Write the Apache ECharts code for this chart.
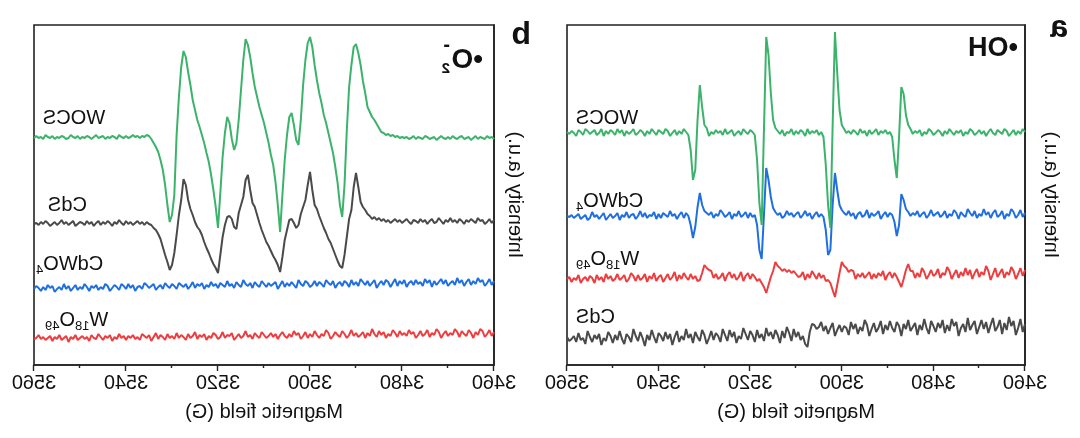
<!DOCTYPE html>
<html>
<head>
<meta charset="utf-8">
<script src="https://cdn.jsdelivr.net/npm/echarts@6/dist/echarts.min.js"></script>
<style>
  html, body { margin: 0; padding: 0; background: #ffffff; }
  /* the reference figure is a horizontally mirrored image */
  #chart { width: 1080px; height: 438px; transform: scaleX(-1); }
</style>
</head>
<body>
<div id="chart"></div>
<script>
// Magnetic field sampling grid (G): 3460 .. 3560, step 0.5 G (201 samples)
const FIELD_START = 3460;
const FIELD_STEP = 0.5;
const X_TICKS = [3460, 3480, 3500, 3520, 3540, 3560];

// ---------- Panel a : •OH (DMPO-OH quartet) ----------
const A_WOCS = [
233,236,231,234,230,235,232,229,234,236,231,233,235,230,232,236,233,229,234,231,
235,232,230,234,236,231,233,229,235,232,234,230,233,236,231,234,229,233,235,232,
230,234,236,231,233,229,235,232,234,231,236,240,250,271,278,228,187,205,228,233,
231,235,232,234,230,236,233,231,235,229,234,232,236,230,233,235,231,234,232,236,
240,255,292,333,240,137,160,200,228,233,230,235,232,234,231,236,229,233,235,231,
234,230,236,232,233,229,235,231,234,237,245,272,310,328,235,140,162,205,230,233,
235,231,233,236,230,234,232,229,235,233,231,236,230,234,232,235,231,233,229,237,
240,258,280,245,195,185,215,230,233,236,231,234,230,235,232,229,234,236,231,233,
235,230,233,236,231,234,229,233,235,232,230,236,233,231,234,229,235,232,236,230,
233,235,231,234,229,236,232,230,235,233,231,234,236,230,233,235,229,232,234,231,
233];
const A_CDWO4 = [
152,148,155,150,147,153,156,149,151,146,154,150,148,155,152,147,153,150,156,149,
151,147,154,149,152,156,148,150,153,146,152,155,149,151,147,154,150,148,153,151,
149,155,150,147,153,151,148,154,150,152,149,153,156,165,171,140,129,143,150,152,
148,153,150,146,154,151,149,152,147,155,150,148,153,151,146,152,149,154,150,152,
155,160,175,192,160,115,110,135,148,151,148,153,150,146,152,149,154,150,147,153,
151,148,152,150,154,149,147,152,150,153,157,168,185,197,150,106,115,140,150,148,
152,147,153,150,148,154,149,151,146,153,150,148,152,155,149,151,147,153,150,152,
154,160,172,158,138,127,140,149,152,147,153,150,146,151,149,154,148,150,152,147,
151,146,153,149,150,147,152,148,154,149,146,151,150,147,153,148,150,145,152,149,
147,151,148,145,152,149,146,150,148,153,147,145,150,148,146,151,149,147,150,148,
149];
const A_W18O49 = [
95,89,97,91,86,94,98,90,93,87,96,92,88,97,91,85,94,99,90,93,
88,96,92,86,95,90,97,89,93,87,95,91,86,94,98,90,92,87,96,91,
89,95,90,86,93,97,88,92,87,94,94,101,95,86,78,83,88,92,87,93,
90,85,94,89,92,87,91,86,93,90,87,92,88,91,86,94,95,93,97,99,
103,92,80,68,75,82,85,84,90,87,92,86,90,94,87,91,85,93,89,88,
91,94,92,95,93,96,94,97,99,103,94,88,80,72,78,82,86,84,88,91,
86,92,89,84,93,88,85,91,87,93,90,84,92,88,86,91,87,94,95,97,
100,92,85,84,89,86,91,85,88,92,86,90,84,93,88,85,91,87,83,90,
88,84,92,86,89,83,91,87,85,90,84,89,92,86,83,90,87,85,91,86,
84,89,86,91,83,88,85,90,82,87,89,84,88,86,82,90,85,87,83,88,
86];
const A_CDS = [
41,33,46,37,30,44,39,48,35,42,31,45,38,34,47,40,32,43,36,45,
38,31,44,40,35,47,33,41,37,29,43,39,46,34,40,32,45,37,42,33,
39,44,31,37,46,35,40,30,42,38,34,45,36,41,29,39,43,33,37,44,
35,40,31,44,37,33,42,36,29,40,45,34,38,31,41,36,43,30,37,39,
33,40,35,29,42,37,31,39,34,43,38,36,40,41,33,18,21,29,25,33,
28,36,24,32,38,27,34,22,30,35,26,33,29,37,24,31,27,35,23,30,
34,25,31,37,26,29,22,33,28,35,24,30,36,23,29,32,25,34,27,21,
30,35,24,28,33,22,31,27,36,25,29,23,34,28,20,31,26,33,24,29,
32,22,28,35,25,30,19,27,33,24,29,36,23,28,31,21,26,34,25,30,
22,29,33,24,27,20,31,26,30,23,28,34,21,27,25,32,23,29,26,24,
28];

// ---------- Panel b : •O2- (DMPO-OOH) ----------
const B_WOCS = [
226,228,227,229,226,227,228,226,229,227,225,228,227,226,229,228,226,227,229,226,
228,226,227,229,227,225,228,227,226,228,229,226,227,228,226,229,227,226,228,227,
228,227,229,228,230,229,231,230,232,233,237,241,245,248,253,258,272,284,300,312,
321,318,300,278,235,180,148,160,182,198,212,222,232,242,250,262,272,285,300,318,
328,322,305,280,245,220,225,240,252,248,230,205,170,133,160,183,200,210,222,232,
242,250,258,268,278,292,308,320,326,305,275,245,222,215,226,242,248,232,208,172,
137,158,175,190,203,212,222,230,238,245,255,265,280,293,308,314,298,268,230,170,
150,143,160,180,195,205,213,218,222,226,229,230,228,229,227,229,228,230,228,227,
229,227,228,230,226,228,229,227,228,226,229,228,227,230,228,226,228,229,227,228,
226,229,227,228,230,227,226,228,229,227,228,226,229,227,228,230,226,228,227,229,
227];
const B_CDS = [
145,142,146,143,141,145,144,147,142,144,146,143,145,141,144,146,142,145,143,147,
143,145,141,144,147,143,142,146,144,141,145,143,146,142,144,145,141,143,146,144,
142,145,143,146,144,142,145,143,146,144,147,145,148,146,149,151,155,158,163,178,
192,178,155,146,128,110,97,99,104,110,116,122,126,132,137,143,149,156,160,175,
193,180,165,158,151,140,137,142,146,145,135,125,108,93,100,105,109,114,119,123,
129,135,142,150,158,162,175,190,185,168,160,152,136,138,146,149,148,140,128,110,
92,97,101,106,112,117,123,130,135,138,143,150,156,165,180,186,165,150,130,112,
100,95,103,110,118,126,131,135,137,140,141,143,140,143,141,144,142,140,143,141,
144,140,142,145,141,143,139,142,144,141,143,140,144,142,139,143,141,144,140,142,
143,141,139,144,142,140,143,141,145,142,140,143,141,139,142,144,141,143,140,142,
141];
const B_CDWO4 = [
84,80,86,82,79,85,83,87,81,84,80,86,83,79,85,82,87,80,84,82,
79,85,81,86,83,80,84,78,85,82,86,79,83,81,85,80,84,82,78,85,
81,84,79,86,82,78,83,85,80,84,81,77,85,82,79,84,80,83,86,79,
83,80,85,78,82,84,79,83,81,77,84,80,82,85,78,81,83,79,84,80,
78,82,84,79,81,85,77,80,83,79,82,78,84,80,76,83,81,79,82,78,
81,84,78,80,83,77,82,79,81,85,78,80,83,77,81,79,84,78,80,82,
77,81,79,83,78,80,76,82,79,81,77,83,79,76,81,78,80,82,76,79,
81,77,79,82,76,80,78,75,81,79,77,80,82,76,79,78,74,80,77,81,
76,79,81,75,78,80,77,74,79,81,76,78,75,80,77,79,74,78,81,76,
78,75,80,77,74,79,76,81,75,78,76,73,79,77,80,75,78,74,77,79,
76];
const B_W18O49 = [
33,29,35,31,28,34,36,30,33,27,32,35,29,31,34,28,33,36,30,32,
29,34,31,27,33,36,30,32,28,35,31,29,34,30,27,33,31,35,29,32,
30,34,28,32,35,29,31,27,33,30,34,28,31,36,29,32,27,33,30,28,
32,29,35,30,27,31,34,28,30,33,29,26,32,35,29,31,27,30,34,28,
31,27,33,29,26,32,30,34,28,31,27,29,33,30,26,31,28,32,29,27,
30,33,27,29,32,26,30,28,34,29,27,31,28,25,32,29,30,27,33,28,
26,30,32,27,29,25,31,28,30,26,33,29,27,31,25,28,30,27,32,26,
29,27,31,25,28,30,26,32,28,24,30,27,29,31,25,28,26,30,27,29,
25,29,27,31,26,28,24,30,27,29,25,28,31,26,27,30,24,28,26,29,
27,25,30,26,28,23,29,27,25,30,26,28,24,29,27,25,28,26,30,27,
26];

const COLORS = { WOCS: '#3bb36b', CdWO4: '#1f6fe0', W18O49: '#ee3d3f', CdS: '#4a4a4a' };
const FONT = '"Liberation Sans", Arial, Helvetica, sans-serif';

function toPairs(vals) {
  return vals.map(function (v, i) { return [FIELD_START + i * FIELD_STEP, v]; });
}

const chart = echarts.init(document.getElementById('chart'), null, { renderer: 'canvas' });

function makeX(gridIndex) {
  return {
    type: 'value', gridIndex: gridIndex,
    min: X_TICKS[0], max: X_TICKS[X_TICKS.length - 1], interval: 20,
    name: 'Magnetic field (G)', nameLocation: 'middle', nameGap: 37,
    nameTextStyle: { fontSize: 20, fontFamily: FONT, color: '#111' },
    axisLine: { show: true, lineStyle: { color: '#222', width: 1.6 } },
    axisTick: { show: true, inside: false, length: 6, lineStyle: { color: '#222', width: 1.4 } },
    minorTick: { show: true, splitNumber: 2, length: 3, lineStyle: { color: '#222', width: 1.4 } },
    axisLabel: { fontSize: 20, fontFamily: FONT, color: '#111', margin: 8,
      formatter: function (v) { return String(v); } },
    splitLine: { show: false }, minorSplitLine: { show: false }
  };
}
function makeY(gridIndex, gap) {
  return {
    type: 'value', gridIndex: gridIndex, min: 0, max: 340,
    name: 'Intensity (a.u.)', nameLocation: 'middle', nameGap: gap,
    nameTextStyle: { fontSize: 20, fontFamily: FONT, color: '#111' },
    axisLine: { show: true, lineStyle: { color: '#222', width: 1.6 } },
    axisTick: { show: false }, axisLabel: { show: false }, splitLine: { show: false }
  };
}
function line(name, vals, color, idx) {
  return {
    name: name, type: 'line', xAxisIndex: idx, yAxisIndex: idx,
    data: toPairs(vals), showSymbol: false, symbol: 'none', silent: true,
    lineStyle: { color: color, width: 2 }, emphasis: { disabled: true }
  };
}

const SUB = { fontSize: 13, fontFamily: FONT, fill: '#111', lineHeight: 13, padding: [13, 0, 0, 0], verticalAlign: 'middle' };
const MAIN = { fontSize: 20, fontFamily: FONT, fill: '#111', lineHeight: 22, verticalAlign: 'middle' };
function label(x, y, text) {
  return { type: 'text', x: x, y: y, silent: true,
    style: { text: text, align: 'right', verticalAlign: 'middle', fontSize: 20, fontFamily: FONT, fill: '#111',
      rich: { m: MAIN, s: SUB } } };
}
function bold(x, y, text, size, align) {
  return { type: 'text', x: x, y: y, silent: true,
    style: { text: text, align: align || 'left', verticalAlign: 'middle', fontSize: size, fontWeight: 'bold', fontFamily: FONT, fill: '#111' } };
}

chart.setOption({
  animation: false,
  backgroundColor: '#ffffff',
  grid: [
    { left: 55, top: 25, width: 458, height: 340, show: true, borderColor: '#222', borderWidth: 1.6, backgroundColor: 'transparent' },
    { left: 586, top: 25, width: 460, height: 340, show: true, borderColor: '#222', borderWidth: 1.6, backgroundColor: 'transparent' }
  ],
  xAxis: [makeX(0), makeX(1)],
  yAxis: [makeY(0, 16), makeY(1, 11)],
  series: [
    line('CdS', A_CDS, COLORS.CdS, 0),
    line('W18O49', A_W18O49, COLORS.W18O49, 0),
    line('CdWO4', A_CDWO4, COLORS.CdWO4, 0),
    line('WOCS', A_WOCS, COLORS.WOCS, 0),
    line('W18O49', B_W18O49, COLORS.W18O49, 1),
    line('CdWO4', B_CDWO4, COLORS.CdWO4, 1),
    line('CdS', B_CDS, COLORS.CdS, 1),
    line('WOCS', B_WOCS, COLORS.WOCS, 1)
  ],
  graphic: [
    bold(12, 28, 'a', 32),
    bold(549, 35, 'b', 32),
    bold(62, 49, '•OH', 27),
    bold(597, 60, '•O', 28),
    bold(630, 69, '2', 15),
    bold(630, 45, '-', 20),
    label(504, 118, '{m|WOCS}'),
    label(504, 201, '{m|CdWO}{s|4}'),
    label(504, 259, '{m|W}{s|18}{m|O}{s|49}'),
    label(504, 317, '{m|CdS}'),
    label(1037, 118, '{m|WOCS}'),
    label(1032, 205, '{m|CdS}'),
    label(1044, 264, '{m|CdWO}{s|4}'),
    label(1035, 320, '{m|W}{s|18}{m|O}{s|49}')
  ]
});
</script>
</body>
</html>
